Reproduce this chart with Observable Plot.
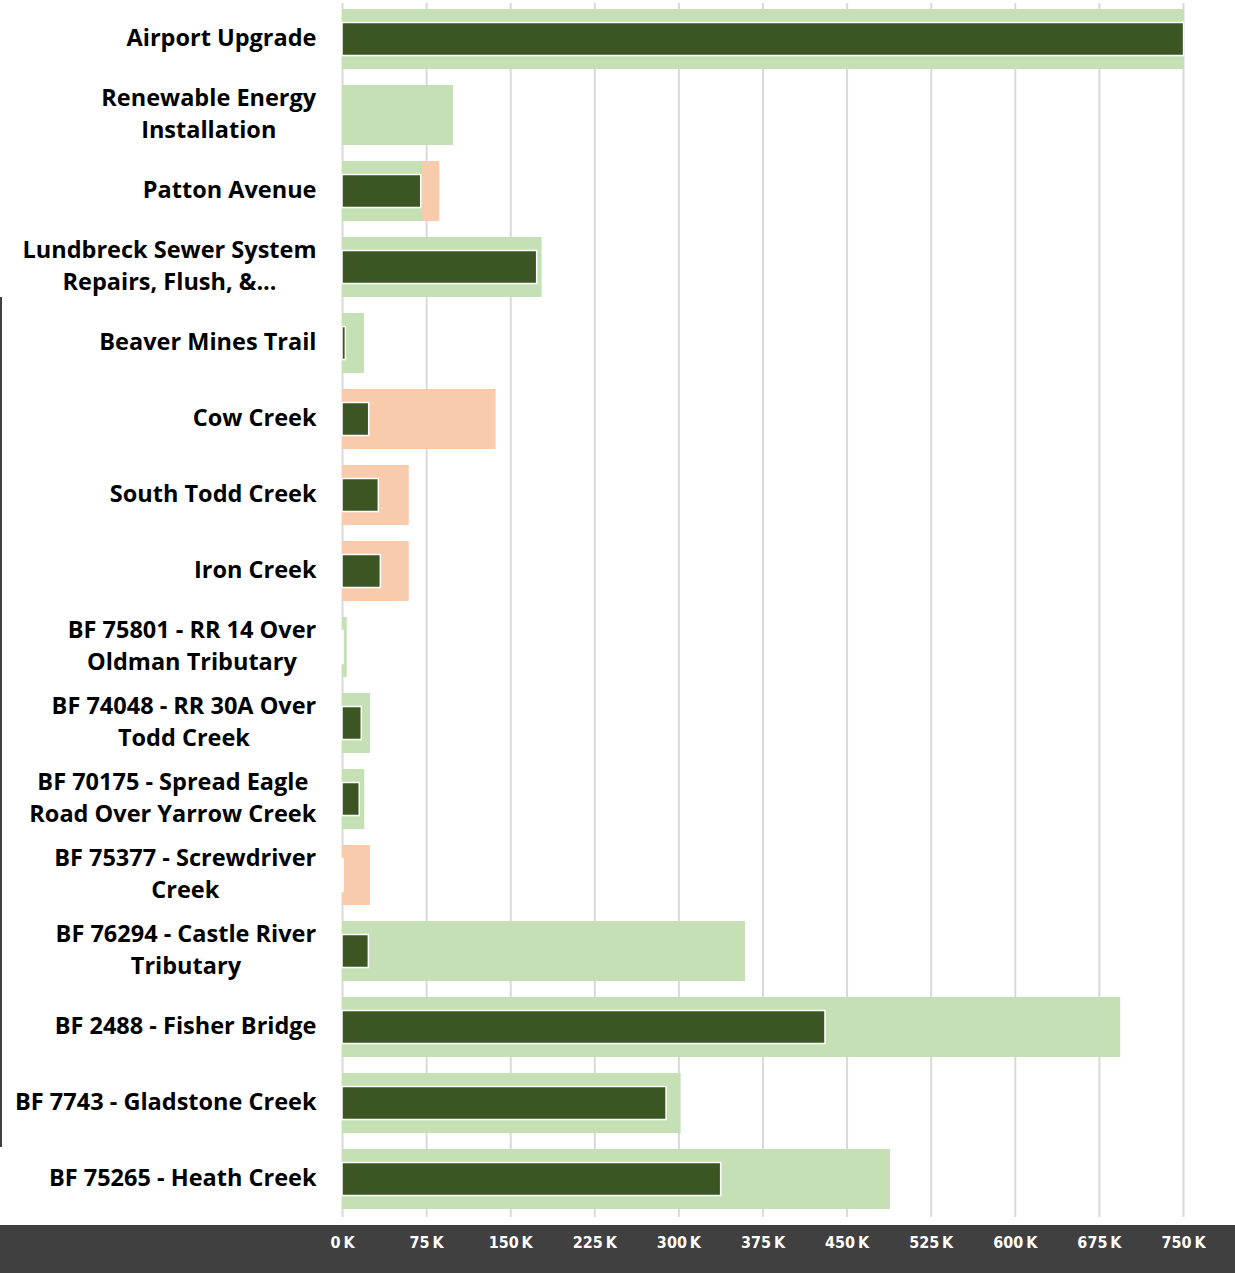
<!DOCTYPE html>
<html>
<head>
<meta charset="utf-8">
<script src="https://cdn.jsdelivr.net/npm/d3@7"></script>
<script src="https://cdn.jsdelivr.net/npm/@observablehq/plot@0.6"></script>
<style>
  html, body { margin: 0; padding: 0; background: #fff; }
  #wrap { position: relative; width: 1235px; height: 1273px; }
  #edge { position: absolute; left: 0; top: 297px; width: 2px; height: 850px; background: #404040; }
  svg { display: block; }
</style>
</head>
<body>
<div id="wrap"><div id="edge"></div></div>
<script>
const projects = [
  "Airport Upgrade",
  "Renewable Energy\nInstallation",
  "Patton Avenue",
  "Lundbreck Sewer System\nRepairs, Flush, &...",
  "Beaver Mines Trail",
  "Cow Creek",
  "South Todd Creek",
  "Iron Creek",
  "BF 75801 - RR 14 Over\nOldman Tributary",
  "BF 74048 - RR 30A Over\nTodd Creek",
  "BF 70175 - Spread Eagle\nRoad Over Yarrow Creek",
  "BF 75377 - Screwdriver\nCreek",
  "BF 76294 - Castle River\nTributary",
  "BF 2488 - Fisher Bridge",
  "BF 7743 - Gladstone Creek",
  "BF 75265 - Heath Creek"
];
// values in thousands
const budget   = [751, 99, 71.6, 178, 19.6, 0, 0, 0, 4.2, 25, 19.9, 0, 359.4, 694, 302, 488.7];
const forecast = [0, 0, 86.8, 0, 0, 137, 59.5, 59.5, 0, 0, 0, 25, 0, 0, 0, 0];
const actual   = [750.5, null, 70.2, 173.6, 3, 23.8, 32.4, 34.2, 1, 17.2, 15.4, 1, 23.5, 430.7, 289, 337.7];
const xTicks   = [0, 75, 150, 225, 300, 375, 450, 525, 600, 675, 750];

const rows = projects.map((p, i) => ({project: p, budget: budget[i], forecast: forecast[i], actual: actual[i]}));

const chart = Plot.plot({
  width: 1235,
  height: 1273,
  marginLeft: 342,
  marginRight: 52,
  marginTop: 1,
  marginBottom: 56,
  style: {
    background: "linear-gradient(to bottom, #ffffff 1225px, #404040 1225px)",
    fontFamily: "'Open Sans', sans-serif"
  },
  x: {domain: [0, 750], ticks: xTicks, grid: false},
  y: {domain: projects, paddingInner: 0.21, paddingOuter: 0.1},
  marks: [
    Plot.ruleX(xTicks, {stroke: "#d9d9d9", strokeWidth: 2, y1: null, y2: null, insetTop: 2}),
    Plot.barX(rows.filter(d => d.forecast > 0), {y: "project", x: "forecast", fill: "#f8cbad"}),
    Plot.barX(rows.filter(d => d.budget > 0), {y: "project", x: "budget", fill: "#c5e0b4"}),
    Plot.barX(rows.filter(d => d.actual != null), {y: "project", x: "actual", fill: "#3b5523", stroke: "#ffffff", strokeWidth: 1.5, insetTop: 13.5, insetBottom: 13.5}),
    Plot.axisX({
      ticks: xTicks, tickSize: 0, tickPadding: 19, fontSize: 16,
      tickFormat: d => `${d}\u2009K`, fill: "#ffffff", fontWeight: "bold",
      label: null
    }),
    Plot.axisY({
      tickSize: 0, tickPadding: 26, fontSize: 23.5, fontWeight: "bold",
      lineHeight: 1.4, fill: "#000000", label: null, dy: -4
    })
  ]
});

document.getElementById("wrap").appendChild(chart);

// condensed style for x tick labels
chart.querySelectorAll('g[aria-label="x-axis tick label"] text').forEach(t => {
  t.style.fontFamily = "'DejaVu Sans Condensed', 'Liberation Sans Narrow', 'DejaVu Sans', sans-serif";
  t.style.fontStretch = "condensed";
});

// center multi-line labels as a block, right-aligned
chart.querySelectorAll('g[aria-label="y-axis tick label"] text').forEach(t => {
  const tspans = t.querySelectorAll("tspan");
  if (tspans.length > 1) {
    const w = t.getBBox().width;
    t.setAttribute("text-anchor", "middle");
    tspans.forEach(s => s.setAttribute("x", -w / 2));
  }
});
</script>
</body>
</html>
